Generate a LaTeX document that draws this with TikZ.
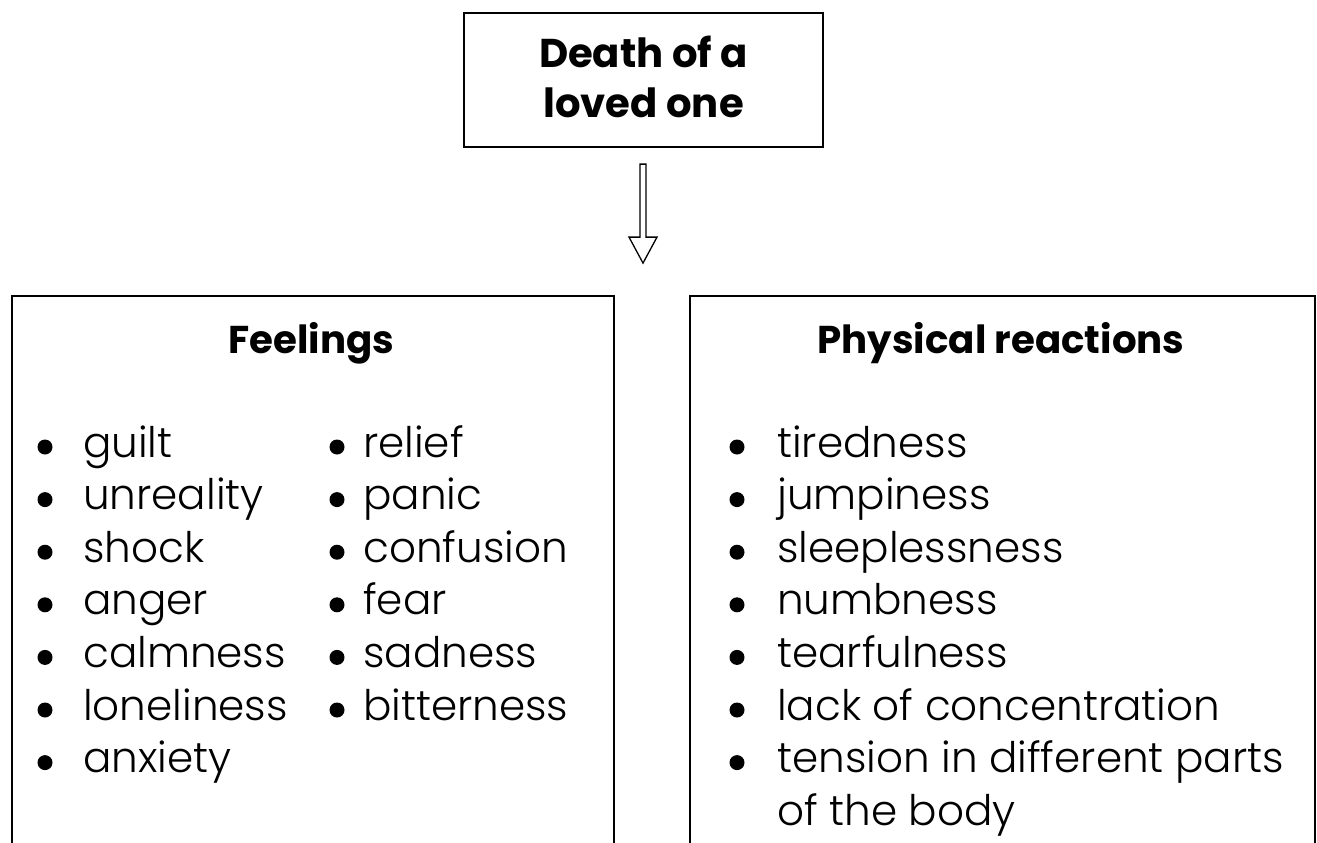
\documentclass[tikz,border=0pt]{standalone}
\usepackage{fontspec}
\setmainfont{Poppins}
\newfontfamily\litefont{Poppins Light}
\newlength\wref
\begin{document}
\settowidth\wref{\fontsize{10pt}{12pt}\litefont lack of concentration}%
\pgfmathsetmacro\bsz{10*443/\wref}%
\settowidth\wref{\fontsize{10pt}{12pt}\selectfont\bfseries Physical reactions}%
\pgfmathsetmacro\hsz{10*367/\wref}%
\settowidth\wref{\fontsize{10pt}{12pt}\selectfont\bfseries Death of a}%
\pgfmathsetmacro\tsz{10*209/\wref}%
\begin{tikzpicture}[x=1pt,y=-1pt]
\tikzset{
  frame/.style={draw=black, line width=2.2pt, fill=none, inner sep=0pt},
  item/.style={font=\fontsize{\bsz pt}{\bsz pt}\litefont, anchor=base west, inner sep=0pt},
  head/.style={font=\fontsize{\hsz pt}{\hsz pt}\selectfont\bfseries, anchor=base, inner sep=0pt},
  ttl/.style={font=\fontsize{\tsz pt}{\tsz pt}\selectfont\bfseries, anchor=base, inner sep=0pt},
  bul/.style={circle, fill=black, inner sep=0pt, minimum size=15pt},
  hollow/.style={draw=black, line width=1.3pt, fill=white, line join=miter},
}
\useasboundingbox (0,0) rectangle (1317,843);
\fill[white] (0,0) rectangle (1317,843);

% top box
\node[frame, minimum width=359pt, minimum height=134pt] (top) at (643.5,80) {};
\node[ttl] (t1) at (643.5,67) {Death of a};
\node[ttl] (t2) at (643.5,117) {loved one};

% arrow
\coordinate (a0) at ([yshift=-16pt]top.south);
\draw[hollow] ([xshift=-3.5pt]a0) -- ++(0,73) -- ++(-11,0) -- ++(14,26) -- ++(14,-26) -- ++(-11,0) -- ++(0,-73) -- cycle;

% lower boxes (bottom edge beyond the page)
\node[frame, minimum width=602pt, minimum height=650pt, anchor=north west] (feel) at (11,295) {};
\node[frame, minimum width=625pt, minimum height=650pt, anchor=north west] (phys) at (689,295) {};

\node[head] (fh) at (311.5,353) {Feelings};
\node[head] (ph) at (1001,353) {Physical reactions};

% feelings column 1
\foreach \w [count=\i from 0] in {guilt,unreality,shock,anger,calmness,loneliness,anxiety}{
  \node[bul] (fad\i) at (45,{447+52.6*\i}) {};
  \node[item] (fa\i) at (83,{457+52.6*\i}) {\w};
}
% feelings column 2
\foreach \w [count=\i from 0] in {relief,panic,confusion,fear,sadness,bitterness}{
  \node[bul] (fbd\i) at (337,{447+52.6*\i}) {};
  \node[item] (fb\i) at (363,{457+52.6*\i}) {\w};
}
% physical reactions
\foreach \w [count=\i from 0] in {tiredness,jumpiness,sleeplessness,numbness,tearfulness,lack of concentration,tension in different parts}{
  \node[bul] (prd\i) at (737,{447+52.6*\i}) {};
  \node[item] (pr\i) at (777,{457+52.6*\i}) {\w};
}
\node[item] (pr7) at (777,{457+52.6*7}) {of the body};
\end{tikzpicture}
\end{document}
